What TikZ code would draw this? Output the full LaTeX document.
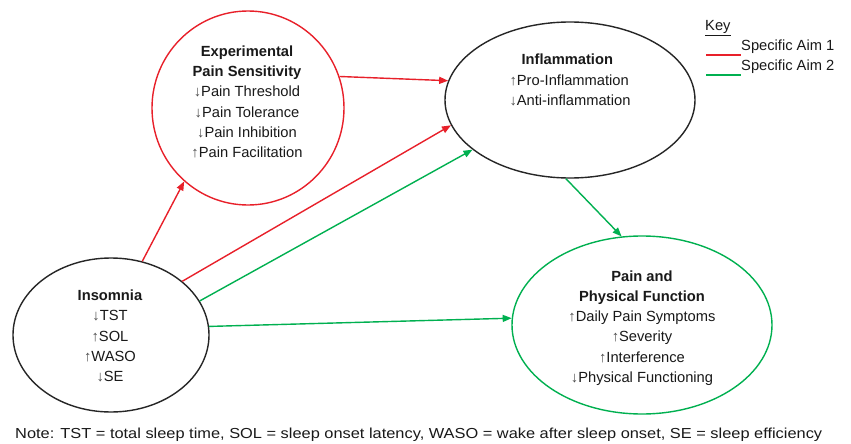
\documentclass[tikz,border=0pt]{standalone}
\usepackage{fontspec}
\setmainfont{Liberation Sans}
\usetikzlibrary{arrows.meta,shapes.geometric}
\definecolor{aimred}{HTML}{E8202A}
\definecolor{aimgreen}{HTML}{00B050}
\newcommand\upar{{\color{black!70}↑}}
\newcommand\dnar{{\color{black!70}↓}}
\begin{document}
\begin{tikzpicture}[x=1pt,y=-1pt,
  bub/.style={ellipse,draw,line width=1.4pt,inner sep=0pt},
  lbl/.style={align=center,font=\fontsize{14.7}{20.3}\selectfont,text=black!90},
  link/.style={line width=1.4pt,-{Triangle[length=9pt,width=7pt]}},
  keyline/.style={line width=1.6pt}]
\useasboundingbox (0,0) rectangle (851,444);
\fill[white] (0,0) rectangle (851,444);
% ellipses
\node[bub,draw=aimred,minimum width=192pt,minimum height=194pt] (eps) at (248,108) {};
\node[bub,draw=black!85,minimum width=250pt,minimum height=156pt] (inf) at (570,100) {};
\node[bub,draw=black!85,minimum width=196pt,minimum height=154pt] (ins) at (111,335) {};
\node[bub,draw=aimgreen,minimum width=260pt,minimum height=178pt] (ppf) at (642,325) {};
% texts
\node[lbl] (epst) at (247,102) {\textbf{Experimental}\\\textbf{Pain Sensitivity}\\\dnar Pain Threshold\\\dnar Pain Tolerance\\\dnar Pain Inhibition\\\upar Pain Facilitation};
\node[lbl,align=left] (inft) at (570,80) {\hspace*{12pt}\textbf{Inflammation}\\\upar Pro-Inflammation\\\dnar Anti-inflammation};
\node[lbl] (inst) at (110,336) {\textbf{Insomnia}\\\dnar TST\\\upar SOL\\\upar WASO\\\dnar SE};
\node[lbl] (ppft) at (642,328) {\textbf{Pain and}\\\textbf{Physical Function}\\\upar Daily Pain Symptoms\\\upar Severity\\\upar Interference\\\dnar Physical Functioning};
% connectors
\draw[link,aimred] (ins.67) -- (eps.229);
\draw[link,aimred] (eps.19) -- (inf.171);
\draw[link,aimred] (ins.37) -- (inf.192);
\draw[link,aimgreen] (ins.21) -- (inf.207);
\draw[link,aimgreen] (ins.5) -- (ppf.177);
\draw[link,aimgreen] (inf.267) -- (ppf.103);
% key
\node[lbl,anchor=west,inner sep=0pt] (keyt) at (705,28) {\underline{Key}};
\node[lbl,anchor=west,inner sep=0pt] (aim1) at (741,47) {Specific Aim 1};
\node[lbl,anchor=west,inner sep=0pt] (aim2) at (741,67) {Specific Aim 2};
\coordinate (k1) at (706,55);
\coordinate (k2) at (706,75);
\draw[keyline,aimred] (k1) -- (aim1.west |- k1);
\draw[keyline,aimgreen] (k2) -- (aim2.west |- k2);
% note
\node[anchor=base west,inner sep=0pt,text=black!90] (note) at (15,438) {\resizebox{807pt}{10.5pt}{\fontsize{14}{16}\selectfont Note: TST = total sleep time, SOL = sleep onset latency, WASO = wake after sleep onset, SE = sleep efficiency}};
\end{tikzpicture}
\end{document}
